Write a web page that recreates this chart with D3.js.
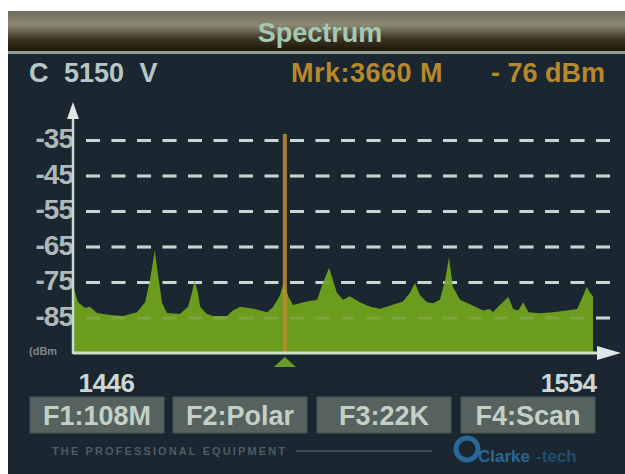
<!DOCTYPE html>
<html><head><meta charset="utf-8">
<script src="https://cdn.jsdelivr.net/npm/d3@7"></script>
<style>
html,body{margin:0;padding:0;background:#fff;}
svg{display:block;}
text{font-family:"Liberation Sans",Arial,sans-serif;font-weight:bold;}
</style></head>
<body>
<script>
// ---- data ----
const freqs = [1446.0,1447.0,1448.5,1449.5,1451.0,1453.7,1456.4,1459.3,1461.0,1462.0,1463.0,1463.4,1464.5,1465.5,1468.2,1469.9,1470.7,1471.3,1472.0,1472.4,1473.8,1475.1,1478.0,1479.2,1480.7,1483.4,1486.3,1487.5,1489.0,1489.8,1490.7,1491.7,1494.6,1496.7,1497.9,1499.2,1500.0,1500.8,1502.1,1503.5,1505.6,1507.7,1509.8,1511.8,1514.5,1516.0,1517.0,1518.1,1519.5,1520.8,1522.2,1523.3,1524.1,1524.9,1526.4,1529.1,1531.2,1532.6,1533.2,1534.3,1536.4,1537.4,1538.5,1539.5,1540.6,1543.0,1545.7,1548.6,1550.7,1551.9,1552.7,1553.4,1554.0];
const levels = [-76,-80.6,-82.3,-82,-83.7,-84.3,-84.6,-83.5,-80.6,-74.4,-66,-70.5,-80.9,-83.7,-84,-82,-78,-74.5,-78.5,-82,-84,-84.6,-84.6,-83,-82,-82.5,-83.5,-82.2,-78.7,-75,-79,-81.5,-80.5,-80,-75.3,-71,-74.5,-78,-80,-79,-80.7,-82,-82.5,-81.7,-80.5,-78,-75.3,-78.7,-80.7,-81,-80,-74.4,-68,-76.4,-80,-81.7,-83,-82.6,-83.5,-82,-79.2,-82.5,-83,-80.7,-83.5,-83.8,-83.5,-83,-82.6,-79,-76.4,-78,-79];
const yTicks = [-35,-45,-55,-65,-75,-85];
const xTicks = [1446,1554];
const markerFreq = 1490;
const title = "Spectrum";
const channelLabel = "C 5150 V";
const markerLabel = "Mrk:3660 M";
const markerLevel = "- 76 dBm";
const buttons = ["F1:108M","F2:Polar","F3:22K","F4:Scan"];

const W=625,H=474;
const svg=d3.select("body").append("svg").attr("width",W).attr("height",H);
const defs=svg.append("defs");
const tg=defs.append("linearGradient").attr("id","tb").attr("x1",0).attr("y1",0).attr("x2",0).attr("y2",1);
tg.append("stop").attr("offset","0%").attr("stop-color","#6f6c5c");
tg.append("stop").attr("offset","35%").attr("stop-color","#8b8874");
tg.append("stop").attr("offset","70%").attr("stop-color","#3a3424");
tg.append("stop").attr("offset","100%").attr("stop-color","#1a1606");

// frame
svg.append("rect").attr("x",8).attr("y",11).attr("width",W-8).attr("height",H-11).attr("fill","#1a2630");
svg.append("rect").attr("x",8).attr("y",11).attr("width",W-8).attr("height",40).attr("fill","url(#tb)");
svg.append("rect").attr("x",8).attr("y",51).attr("width",W-8).attr("height",3).attr("fill","#8e9c98");
svg.append("text").attr("x",320).attr("y",42).attr("text-anchor","middle").attr("font-size",27).attr("fill","#a6c8b2").text(title);

svg.append("text").attr("x",29).attr("y",82).attr("font-size",27).attr("fill","#b9c6c6").attr("word-spacing",8).text(channelLabel);
svg.append("text").attr("x",291).attr("y",82).attr("font-size",27).attr("letter-spacing",0.5).attr("fill","#b8882c").text(markerLabel);
svg.append("text").attr("x",605).attr("y",82).attr("text-anchor","end").attr("font-size",27).attr("fill","#b8882c").text(markerLevel);

// scales
const x=d3.scaleLinear().domain([1446,1554]).range([73,593]);
const y=d3.scaleLinear().domain([-95,-35]).range([353,140]);

// grid
function grid(g,op){
  g.attr("transform","translate(86,0)")
   .call(d3.axisRight(y).tickValues(yTicks).tickSize(526).tickFormat(""))
   .call(s=>s.select(".domain").remove())
   .selectAll("line").attr("stroke","#c9d6d2").attr("stroke-width",3).attr("stroke-dasharray","14 11.5").attr("opacity",op);
}
svg.append("g").call(g=>grid(g,1));

// area
const area=d3.area().x((d,i)=>x(freqs[i])).y0(y(-95)).y1(d=>y(d));
svg.append("path").datum(levels).attr("d",area).attr("fill","#6c9c1e");
svg.append("g").call(g=>grid(g,0.18));

// marker
svg.append("line").attr("x1",x(markerFreq)).attr("x2",x(markerFreq)).attr("y1",134).attr("y2",353)
  .attr("stroke","#b98a30").attr("stroke-width",4).attr("opacity",0.9);

// y labels
const ya=svg.append("g").attr("transform","translate(73,0)")
  .call(d3.axisLeft(y).tickValues(yTicks).tickSize(0).tickPadding(0).tickFormat(d=>d));
ya.select(".domain").remove();
ya.selectAll("text").attr("font-size",28).attr("fill","#aeb8b8").attr("font-family","Liberation Sans, Arial, sans-serif").attr("font-weight","bold").attr("dy","0.28em").attr("letter-spacing",-1);
svg.append("text").attr("x",29).attr("y",355).attr("font-size",11).attr("fill","#7d8a8c").text("(dBm");

// axes lines
svg.append("line").attr("x1",73).attr("x2",73).attr("y1",115).attr("y2",354).attr("stroke","#c9dcd4").attr("stroke-width",2.5);
svg.append("path").attr("d","M73,102 L67,119 L79,119 Z").attr("fill","#dfe8e6");
svg.append("line").attr("x1",73).attr("x2",605).attr("y1",353).attr("y2",353).attr("stroke","#cfe0c8").attr("stroke-width",3);
svg.append("path").attr("d","M621,353 L597,346 L597,360 Z").attr("fill","#dfe8e6");
// marker triangle
svg.append("path").attr("d",`M${x(markerFreq)},357 L${x(markerFreq)-11},367 L${x(markerFreq)+11},367 Z`).attr("fill","#6a9a2a");

// x labels
const xa=svg.append("g").attr("transform","translate(0,353)")
  .call(d3.axisBottom(x).tickValues(xTicks).tickSize(0).tickPadding(0).tickFormat(d=>d));
xa.select(".domain").remove();
xa.selectAll("text").attr("font-size",26).attr("fill","#cdd6d2").attr("font-family","Liberation Sans, Arial, sans-serif").attr("font-weight","bold")
  .attr("y",39).attr("dy",null).attr("letter-spacing",-0.5)
  .attr("text-anchor",(d,i)=>i===0?"start":"end")
  .attr("dx",(d,i)=>i===0?5:3);

// buttons
const bx=[30,173,317,461];
const bg=svg.selectAll("g.btn").data(buttons).join("g").attr("class","btn").attr("transform",(d,i)=>`translate(${bx[i]},397)`);
bg.append("rect").attr("width",134).attr("height",36).attr("fill","#56625f").attr("stroke","#4a5654").attr("stroke-width",1);
bg.append("text").attr("x",67).attr("y",28).attr("text-anchor","middle").attr("font-size",27).attr("fill","#c3d0c6").text(d=>d);

// footer
svg.append("text").attr("x",52).attr("y",455).attr("font-size",11).attr("fill","#4d5e64").attr("font-weight","normal").attr("textLength",233).text("THE PROFESSIONAL EQUIPMENT");
svg.append("line").attr("x1",296).attr("x2",432).attr("y1",451).attr("y2",451).attr("stroke","#5d6d72").attr("stroke-width",1.2);
svg.append("circle").attr("cx",467).attr("cy",449).attr("r",11).attr("fill","none").attr("stroke","#2a6898").attr("stroke-width",5);
svg.append("text").attr("x",478).attr("y",462).attr("font-size",17).attr("fill","#2a6898").text("Clarke");
svg.append("text").attr("x",536).attr("y",462).attr("font-size",17).attr("fill","#1e4e72").attr("font-weight","normal").text("-tech");
</script>
</body></html>
